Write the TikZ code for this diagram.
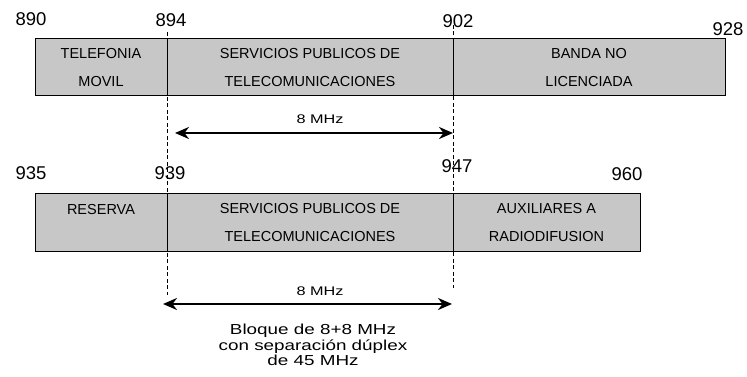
\documentclass[tikz,border=0pt]{standalone}
\usepackage{fontspec}
\setmainfont{Liberation Sans}
\newfontfamily\widefont[FakeStretch=1.3]{Liberation Sans}
\usetikzlibrary{arrows.meta}

\begin{document}
\begin{tikzpicture}[
    band/.style={draw,fill=black!22,line width=1pt,inner sep=0pt,align=center,
                 font=\fontsize{14.5}{28}\selectfont},
    freq/.style={inner sep=0pt,font=\fontsize{18.5}{20}\selectfont},
    guide/.style={dash pattern=on 4pt off 2.5pt,line width=0.6pt},
    span/.style={{Stealth[length=14pt,width=12pt]}-{Stealth[length=14pt,width=12pt]},line width=2.2pt},
    mhz/.style={inner sep=0pt,font=\widefont\fontsize{12.5}{14}\selectfont}
  ]
  \useasboundingbox (0pt,0pt) rectangle (747pt,377pt);

  % upper band 890-928
  \node[band,minimum width=132pt,minimum height=57pt] (movil) at (101pt,309.5pt) {TELEFONIA\\MOVIL};
  \node[band,minimum width=286pt,minimum height=57pt] (serv1) at (310pt,309.5pt) {SERVICIOS PUBLICOS DE\\TELECOMUNICACIONES};
  \node[band,minimum width=272pt,minimum height=57pt] (banda) at (589pt,309.5pt) {BANDA NO\\LICENCIADA};

  \node[freq] (f890) at (31pt,357.5pt) {890};
  \node[freq] (f894) at (171pt,357pt) {894};
  \node[freq] (f902) at (458pt,356pt) {902};
  \node[freq] (f928) at (728pt,348pt) {928};

  % lower band 935-960
  \node[band,minimum width=132pt,minimum height=58pt] (reserva) at (101pt,154pt) {RESERVA\\\mbox{}};
  \node[band,minimum width=286pt,minimum height=58pt] (serv2) at (310pt,154pt) {SERVICIOS PUBLICOS DE\\TELECOMUNICACIONES};
  \node[band,minimum width=187pt,minimum height=58pt] (aux) at (546.5pt,154pt) {AUXILIARES A\\RADIODIFUSION};

  \node[freq] (f935) at (31pt,204pt) {935};
  \node[freq] (f939) at (170pt,204pt) {939};
  \node[freq] (f947) at (457pt,210.5pt) {947};
  \node[freq] (f960) at (627pt,203pt) {960};

  % guides
  \coordinate (gAtop) at (167pt,345pt);
  \coordinate (gAbot) at (167pt,82pt);
  \coordinate (gBtop) at (453pt,352pt);
  \coordinate (gBbot) at (453pt,89pt);
  \draw[guide] (gAtop) -- (gAbot);
  \draw[guide] (gBtop) -- (gBbot);

  % 8 MHz blocks
  \coordinate (upL) at (175pt,244pt);
  \coordinate (upR) at (453pt,244pt);
  \draw[span] (upL) -- (upR);
  \node[mhz] (mhzup) at (320pt,258pt) {8 MHz};

  \coordinate (loL) at (163pt,73pt);
  \coordinate (loR) at (452pt,73pt);
  \draw[span] (loL) -- (loR);
  \node[mhz] (mhzlo) at (320pt,86pt) {8 MHz};

  \node[align=center,font=\widefont\fontsize{14.5}{15.5}\selectfont] (bloque) at (313pt,32pt)
    {Bloque de 8+8 MHz\\con separación dúplex\\de 45 MHz};
\end{tikzpicture}
\end{document}
